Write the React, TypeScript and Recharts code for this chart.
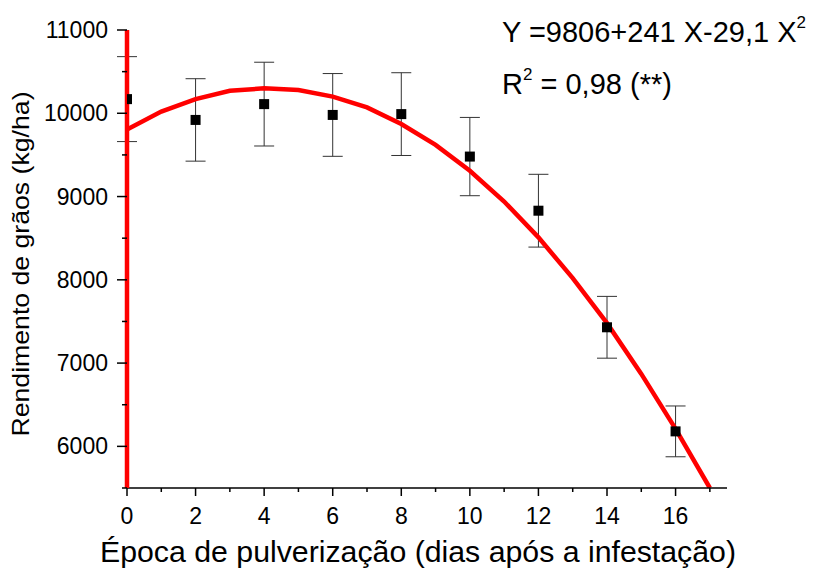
import { ComposedChart, Line, Scatter, ErrorBar, XAxis, YAxis } from 'recharts'

const FONT = '"Liberation Sans", Arial, sans-serif'

// observed means and error (+/-) per spraying day
const sprayDays = [0, 2, 4, 6, 8, 10, 12, 14, 16]
const yieldMean = [10170, 9920, 10110, 9980, 9990, 9480, 8830, 7430, 6180]
const yieldErr = [510, 495, 503, 497, 497, 470, 437, 371, 305]

// fitted quadratic at each whole day
const fitDays = [0, 1, 2, 3, 4, 5, 6, 7, 8, 9, 10, 11, 12, 13, 14, 15, 16, 17]
const fitYield = [9806, 10020, 10170, 10270, 10300, 10280, 10200, 10070, 9870, 9620, 9310, 8940, 8510, 8020, 7480, 6870, 6210, 5500]

const xTicks = [0, 1, 2, 3, 4, 5, 6, 7, 8, 9, 10, 11, 12, 13, 14, 15, 16, 17]
const yTicks = [5500, 6000, 6500, 7000, 7500, 8000, 8500, 9000, 9500, 10000, 10500, 11000]

const points = sprayDays.map((x, i) => ({ x, y: yieldMean[i], err: yieldErr[i] }))
const fit = fitDays.map((x, i) => ({ x, y: fitYield[i] }))

const XTick = ({ x, y, payload }: any) => {
  const major = payload.value % 2 === 0
  return (
    <g>
      <line x1={x} x2={x} y1={y} y2={y + (major ? 8 : 4)} stroke="#000" strokeWidth={1.5} />
      {major && (
        <text x={x} y={y + 36} textAnchor="middle" fontSize={23} fontFamily={FONT} fill="#000">
          {payload.value}
        </text>
      )}
    </g>
  )
}

const YTick = ({ x, y, payload }: any) => {
  const major = payload.value % 1000 === 0
  return (
    <g>
      <line x1={x - (major ? 10 : 5)} x2={x} y1={y} y2={y} stroke="#000" strokeWidth={1.5} />
      {major && (
        <text x={x - 19} y={y + 8} textAnchor="end" fontSize={23} fontFamily={FONT} fill="#000">
          {payload.value}
        </text>
      )}
    </g>
  )
}

const Square = ({ cx, cy }: any) => <rect x={cx - 5} y={cy - 5} width={10} height={10} fill="#000" />

export default function App() {
  return (
    <div style={{ position: 'absolute', left: 0, top: 0, background: '#fff' }}>
      <ComposedChart width={824} height={574} margin={{ top: 30, right: 97, bottom: 0, left: 0 }}>
        <XAxis
          type="number"
          dataKey="x"
          domain={[0, 17.5]}
          ticks={xTicks}
          tick={<XTick />}
          tickLine={false}
          tickSize={0}
          tickMargin={0}
          height={86}
          axisLine={{ stroke: '#000', strokeWidth: 1.5 }}
          allowDataOverflow
        />
        <YAxis
          type="number"
          dataKey="y"
          domain={[5500, 11000]}
          ticks={yTicks}
          tick={<YTick />}
          tickLine={false}
          tickSize={0}
          tickMargin={0}
          width={127}
          axisLine={{ stroke: '#ff0000', strokeWidth: 4.5 }}
          allowDataOverflow
        />
        <Scatter data={points} dataKey="y" shape={<Square />} isAnimationActive={false}>
          <ErrorBar dataKey="err" direction="y" width={10} stroke="#333" strokeWidth={1} />
        </Scatter>
        <Line
          data={fit}
          dataKey="y"
          type="linear"
          stroke="#ff0000"
          strokeWidth={4.5}
          dot={false}
          activeDot={false}
          isAnimationActive={false}
        />
        <text
          transform="translate(29,264) rotate(-90)"
          textAnchor="middle"
          fontSize={24}
          fontFamily={FONT}
          textLength={345}
          lengthAdjust="spacingAndGlyphs"
          fill="#000"
        >
          Rendimento de grãos (kg/ha)
        </text>
        <text
          x={418}
          y={562}
          textAnchor="middle"
          fontSize={30}
          fontFamily={FONT}
          textLength={636}
          lengthAdjust="spacingAndGlyphs"
          fill="#000"
        >
          Época de pulverização (dias após a infestação)
        </text>
        <text x={502} y={42} fontSize={29} fontFamily={FONT} fill="#000">
          Y =9806+241 X-29,1 X<tspan fontSize={17} dy={-14}>2</tspan>
        </text>
        <text x={502} y={94} fontSize={29} fontFamily={FONT} fill="#000">
          R<tspan fontSize={17} dy={-14}>2</tspan>
          <tspan dy={14}> = 0,98 (**)</tspan>
        </text>
      </ComposedChart>
    </div>
  )
}
